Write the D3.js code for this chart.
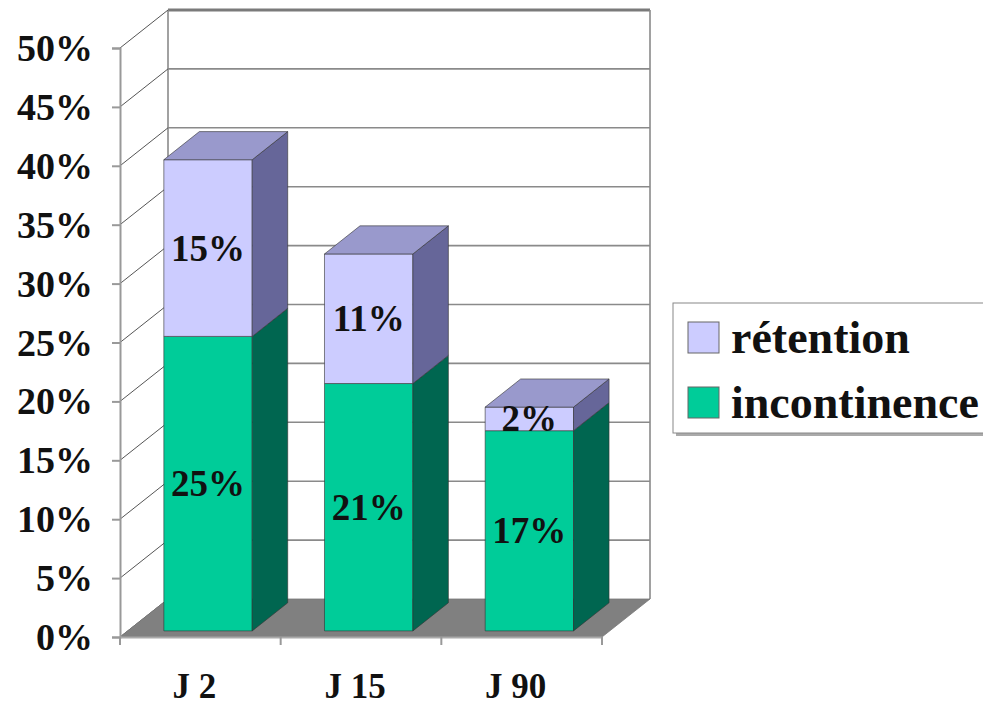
<!DOCTYPE html>
<html>
<head>
<meta charset="utf-8">
<script src="https://cdn.jsdelivr.net/npm/d3@7"></script>
<style>
  html, body { margin: 0; padding: 0; background: #fff; }
  svg { display: block; }
  text { font-family: "Liberation Serif", "Times New Roman", serif; font-weight: bold; fill: #111; }
</style>
</head>
<body>
<svg id="chart" width="983" height="707"></svg>
<script>
// Categories (days after surgery) and stacked series values in percent
const categories = ["J 2", "J 15", "J 90"];
const incontinence = [25, 21, 17];
const retention = [15, 11, 2];
const seriesKeys = ["incontinence", "retention"];
const legendLabels = ["rétention", "incontinence"];
const yTicks = [0, 5, 10, 15, 20, 25, 30, 35, 40, 45, 50];

const rows = categories.map((c, i) => ({ cat: c, incontinence: incontinence[i], retention: retention[i] }));

const svg = d3.select("#chart");

// Front plane scales
const y = d3.scaleLinear().domain([0, 50]).range([637, 48]);
const xCat = d3.scaleBand().domain(categories).range([120, 602]).padding(0);
const xBar = d3.scaleBand().domain(categories).range([120, 602]).paddingInner(0.45).paddingOuter(0.225);

// Oblique depth projection
const DX = 48, DY = -38;
const P = (x, v, d) => [x + d * DX, y(v) + d * DY];
const poly = pts => "M" + pts.map(p => p.join(",")).join("L") + "Z";

const x0 = 120, x1 = 602;

// Back wall
svg.append("path").attr("d", poly([P(x0, 0, 1), P(x1, 0, 1), P(x1, 50, 1), P(x0, 50, 1)]))
  .attr("fill", "#fff");
// Left side wall
svg.append("path").attr("d", poly([P(x0, 0, 0), P(x0, 0, 1), P(x0, 50, 1), P(x0, 50, 0)]))
  .attr("fill", "#fff");

// Back wall gridlines
svg.append("g").selectAll("line").data(yTicks.filter(v => v > 0 && v < 50)).join("line")
  .attr("x1", v => P(x0, v, 1)[0]).attr("y1", v => P(x0, v, 1)[1])
  .attr("x2", v => P(x1, v, 1)[0]).attr("y2", v => P(x1, v, 1)[1])
  .attr("stroke", "#8a8a8a").attr("stroke-width", 1.6);
// Top edge of back wall
svg.append("line")
  .attr("x1", P(x0, 50, 1)[0]).attr("y1", P(x0, 50, 1)[1])
  .attr("x2", P(x1, 50, 1)[0]).attr("y2", P(x1, 50, 1)[1])
  .attr("stroke", "#7a7a7a").attr("stroke-width", 3);
// Vertical edges of back wall
[x0, x1].forEach(xx => {
  svg.append("line")
    .attr("x1", P(xx, 0, 1)[0]).attr("y1", P(xx, 0, 1)[1])
    .attr("x2", P(xx, 50, 1)[0]).attr("y2", P(xx, 50, 1)[1])
    .attr("stroke", "#8a8a8a").attr("stroke-width", 1.6);
});
// Side wall gridlines
svg.append("g").selectAll("line").data(yTicks).join("line")
  .attr("x1", v => P(x0, v, 0)[0]).attr("y1", v => P(x0, v, 0)[1])
  .attr("x2", v => P(x0, v, 1)[0]).attr("y2", v => P(x0, v, 1)[1])
  .attr("stroke", "#555").attr("stroke-width", 1);

// Floor
svg.append("path").attr("d", poly([P(x0, 0, 0), P(x1, 0, 0), P(x1, 0, 1), P(x0, 0, 1)]))
  .attr("fill", "#808080").attr("stroke", "#777").attr("stroke-width", 0.8);

// Value axis on the front plane
const yAxis = d3.axisLeft(y).tickValues(yTicks).tickFormat(d => d + "%").tickSize(8).tickPadding(19);
const gy = svg.append("g").attr("transform", `translate(${x0},0)`).call(yAxis);
gy.select(".domain").attr("stroke", "#999").attr("stroke-width", 2);
gy.selectAll(".tick line").attr("stroke", "#999").attr("stroke-width", 2);
gy.selectAll(".tick text").attr("font-size", 38).attr("fill", "#111")
  .attr("font-family", "Liberation Serif, Times New Roman, serif").attr("font-weight", "bold")
  .attr("dy", "0.33em");

// Category axis
const xAxis = d3.axisBottom(xCat).tickValues([]).tickSizeOuter(0);
const gx = svg.append("g").attr("transform", `translate(0,${y(0)})`).call(xAxis);
gx.select(".domain").attr("stroke", "#aaa").attr("stroke-width", 2);
const boundaries = categories.map(c => xCat(c)).concat([x1]);
gx.selectAll("line.sep").data(boundaries).join("line").attr("class", "sep")
  .attr("x1", d => d).attr("x2", d => d).attr("y1", 0).attr("y2", 8)
  .attr("stroke", "#999").attr("stroke-width", 2);
svg.append("g").selectAll("text").data(categories).join("text")
  .attr("x", d => xCat(d) + xCat.bandwidth() / 2 - 6)
  .attr("y", 698)
  .attr("text-anchor", "middle")
  .attr("font-size", 35)
  .text(d => d);

// Stacked 3D bars
const stack = d3.stack().keys(seriesKeys)(rows);
const faces = {
  incontinence: { front: "#00cc99", side: "#006650", top: "#00a57c" },
  retention: { front: "#ccccff", side: "#666699", top: "#9999cc" }
};
const d0 = 0.16, d1 = 0.9;
const gBars = svg.append("g");
rows.forEach((r, i) => {
  stack.forEach((layer, li) => {
    const seg = layer[i];
    const key = layer.key;
    const xl = xBar(r.cat), xr = xl + xBar.bandwidth();
    const lo = seg[0], hi = seg[1];
    const col = faces[key];
    // front face
    gBars.append("path").attr("d", poly([P(xl, lo, d0), P(xr, lo, d0), P(xr, hi, d0), P(xl, hi, d0)]))
      .attr("fill", col.front).attr("stroke", "#333").attr("stroke-width", 0.6);
    // right side face
    gBars.append("path").attr("d", poly([P(xr, lo, d0), P(xr, lo, d1), P(xr, hi, d1), P(xr, hi, d0)]))
      .attr("fill", col.side).attr("stroke", "#333").attr("stroke-width", 0.6);
    // top face for the topmost segment
    if (li === stack.length - 1) {
      gBars.append("path").attr("d", poly([P(xl, hi, d0), P(xr, hi, d0), P(xr, hi, d1), P(xl, hi, d1)]))
        .attr("fill", col.top).attr("stroke", "#333").attr("stroke-width", 0.6);
    }
  });
});

// Value labels centred on each segment's front face
const gLabels = svg.append("g");
rows.forEach((r, i) => {
  stack.forEach(layer => {
    const seg = layer[i];
    const xl = xBar(r.cat), xr = xl + xBar.bandwidth();
    const [cx, cy] = P((xl + xr) / 2, (seg[0] + seg[1]) / 2, d0);
    gLabels.append("text")
      .attr("x", cx).attr("y", cy + 12.5)
      .attr("text-anchor", "middle")
      .attr("font-size", 37)
      .text(r[layer.key] + "%");
  });
});

// Legend
const lg = svg.append("g").attr("transform", "translate(673,303)");
lg.append("rect").attr("x", 3).attr("y", 3).attr("width", 330).attr("height", 130).attr("fill", "#aaa");
lg.append("rect").attr("x", 0).attr("y", 0).attr("width", 330).attr("height", 130)
  .attr("fill", "#fff").attr("stroke", "#888").attr("stroke-width", 1);
const legendColors = [faces.retention.front, faces.incontinence.front];
legendLabels.forEach((lab, i) => {
  const row = lg.append("g").attr("transform", `translate(0,${i * 65})`);
  row.append("rect").attr("x", 15).attr("y", 19).attr("width", 31).attr("height", 31)
    .attr("fill", legendColors[i]).attr("stroke", "#666").attr("stroke-width", 1);
  row.append("text").attr("x", 58).attr("y", 50).attr("font-size", 46).text(lab);
});
</script>
</body>
</html>
